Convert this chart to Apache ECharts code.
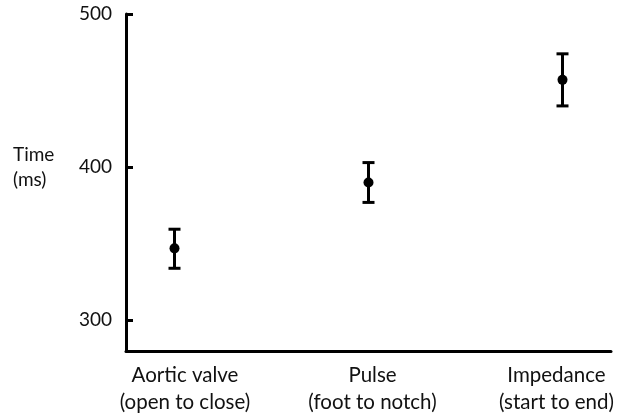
<!DOCTYPE html>
<html><head><meta charset="utf-8">
<script src="https://cdn.jsdelivr.net/npm/echarts@6/dist/echarts.min.js"></script>
<style>html,body{margin:0;padding:0;background:#fff}#c{width:618px;height:417px}</style>
</head><body><div id="c"></div>
<script>
var categories = ['Aortic valve\n(open to close)', 'Pulse\n(foot to notch)', 'Impedance\n(start to end)'];
var positions = [1, 2, 3];
var means = [347, 390, 457];
var lows = [334, 377, 440];
var highs = [359.5, 403, 474];
var yTicks = [300, 400, 500];

var FONT = 'Lato';
var chart = echarts.init(document.getElementById('c'));
var errData = positions.map(function (p, i) { return [p, lows[i], highs[i]]; });
var ptData = positions.map(function (p, i) { return [p, means[i]]; });
var labelStyleNames = ['a', 'b', 'c'];
function richStyle(pad) {
  return { fontFamily: FONT, fontSize: 20.5, color: '#111', lineHeight: 27, padding: pad };
}

chart.setOption({
  animation: false,
  title: {
    text: 'Time\n(ms)', left: 8, top: 137,
    textStyle: { fontFamily: FONT, fontSize: 19, fontWeight: 'normal', color: '#111', lineHeight: 25 }
  },
  grid: { left: 126, right: 7, top: 14, bottom: 66, outerBoundsMode: 'none', containLabel: false },
  xAxis: {
    type: 'value', min: 0.75, max: 3.25,
    splitLine: { show: false },
    axisLine: { show: true, onZero: false, lineStyle: { color: '#000', width: 3 } },
    axisTick: { show: false },
    axisLabel: {
      customValues: positions,
      formatter: function (v) {
        var i = positions.indexOf(v);
        if (i < 0) return '';
        var s = labelStyleNames[i];
        return categories[i].split('\n').map(function (t) { return '{' + s + '|' + t + '}'; }).join('\n');
      },
      fontFamily: FONT, fontSize: 20.5, color: '#111', lineHeight: 27, margin: 11,
      rich: {
        a: richStyle([0, 0, 0, 21]),
        b: richStyle([0, 0, 0, 8]),
        c: richStyle([0, 12, 0, 0])
      }
    }
  },
  yAxis: {
    type: 'value', min: 280, max: 500,
    splitLine: { show: false },
    axisLine: { show: true, onZero: false, lineStyle: { color: '#000', width: 3 } },
    axisTick: { show: true, inside: true, length: 7, customValues: yTicks, lineStyle: { color: '#000', width: 3 } },
    axisLabel: { customValues: yTicks, fontFamily: FONT, fontSize: 19, color: '#111', margin: 14 }
  },
  series: [
    {
      type: 'custom',
      data: errData,
      renderItem: function (params, api) {
        var x = api.value(0);
        var lo = api.coord([x, api.value(1)]);
        var hi = api.coord([x, api.value(2)]);
        var hw = 6;
        var st = { stroke: '#000', lineWidth: 3 };
        return {
          type: 'group',
          children: [
            { type: 'line', shape: { x1: lo[0], y1: lo[1], x2: hi[0], y2: hi[1] }, style: st },
            { type: 'line', shape: { x1: lo[0] - hw, y1: lo[1], x2: lo[0] + hw, y2: lo[1] }, style: st },
            { type: 'line', shape: { x1: hi[0] - hw, y1: hi[1], x2: hi[0] + hw, y2: hi[1] }, style: st }
          ]
        };
      },
      z: 2
    },
    {
      type: 'scatter',
      data: ptData,
      symbol: 'circle',
      symbolSize: 10,
      itemStyle: { color: '#000', opacity: 1 },
      z: 3
    }
  ]
});
</script></body></html>
